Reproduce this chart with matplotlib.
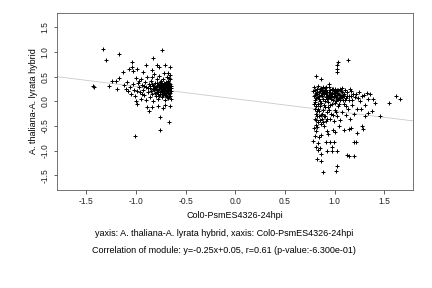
import numpy as np
import matplotlib
matplotlib.use("Agg")
import matplotlib.pyplot as plt

plt.rcParams['font.family'] = ['Liberation Sans', 'DejaVu Sans']

# left cluster (x, y)
left_pts = [
    (-1.33, 1.07), (-1.30, 0.84), (-1.17, 0.96), (-0.74, 1.04), (-0.83, 0.87), (-1.04, 0.79),
    (-1.43, 0.31), (-1.42, 0.28), (-1.27, 0.31), (-1.24, 0.41), (-1.20, 0.41), (-1.19, 0.24),
    (-1.17, 0.47), (-1.13, 0.60), (-1.09, 0.40), (-1.08, 0.20), (-1.07, 0.65), (-1.04, 0.70),
    (-1.03, 0.61), (-1.00, 0.47), (-0.99, 0.65), (-0.90, 0.74), (-0.93, 0.60), (-0.84, 0.64),
    (-0.79, 0.74), (-0.77, 0.70), (-0.71, 0.74), (-0.66, 0.70), (-0.68, 0.58), (-0.66, 0.53),
    (-0.72, 0.57), (-0.84, 0.49),
    (-1.00, 0.00), (-0.99, -0.05), (-0.89, -0.11), (-0.87, -0.20), (-0.84, -0.11), (-0.78, -0.09),
    (-0.73, -0.14), (-0.71, -0.08), (-0.66, -0.09), (-0.76, -0.32), (-0.67, -0.43), (-0.76, -0.58),
    (-1.01, -0.70),
    (-1.12, 0.33), (-1.10, 0.25), (-1.06, 0.28), (-1.05, 0.15), (-1.03, 0.35), (-1.02, 0.22),
    (-1.01, 0.10), (-0.98, 0.38), (-0.97, 0.28), (-0.96, 0.18), (-0.95, 0.45), (-0.95, 0.05),
    (-0.94, 0.33), (-0.93, 0.22), (-0.92, 0.12), (-0.91, 0.40), (-0.90, 0.28), (-0.90, 0.02),
    (-0.89, 0.50), (-0.88, 0.18), (-0.87, 0.35), (-0.86, 0.08), (-0.86, 0.26), (-0.85, 0.42),
    (-0.84, 0.15), (-0.83, 0.30), (-0.83, 0.00), (-0.82, 0.55), (-0.82, 0.22), (-0.81, 0.38),
    (-0.80, 0.10), (-0.80, 0.28), (-0.79, 0.45), (-0.79, 0.18), (-0.78, 0.33), (-0.78, 0.04),
    (-0.77, 0.24), (-0.77, 0.52), (-0.76, 0.14), (-0.76, 0.40), (-0.75, 0.30), (-0.75, 0.20),
    (-0.74, 0.08), (-0.74, 0.36), (-0.73, 0.25), (-0.73, 0.46), (-0.72, 0.15), (-0.72, 0.32),
    (-0.71, 0.22), (-0.71, 0.02), (-0.70, 0.40), (-0.70, 0.28), (-0.70, 0.12), (-0.69, 0.35),
    (-0.69, 0.18), (-0.69, 0.50), (-0.68, 0.25), (-0.68, 0.06), (-0.68, 0.42), (-0.67, 0.30),
    (-0.67, 0.15), (-0.67, 0.22), (-0.66, 0.36), (-0.66, 0.10), (-0.66, 0.26), (-0.66, 0.45),
    (-0.65, 0.20), (-0.65, 0.32), (-0.65, 0.04),
    (-0.88, 0.26), (-0.85, 0.20), (-0.82, 0.32), (-0.80, 0.24), (-0.78, 0.15), (-0.76, 0.28),
    (-0.74, 0.20), (-0.73, 0.12), (-0.72, 0.26), (-0.71, 0.36), (-0.70, 0.20), (-0.69, 0.28),
    (-0.68, 0.16), (-0.67, 0.38), (-0.92, 0.30), (-0.94, 0.15), (-0.97, 0.42), (-0.99, 0.20),
    (-0.84, 0.36), (-0.81, 0.16), (-0.79, 0.38), (-0.77, 0.10), (-0.75, 0.42), (-0.73, 0.32),
    (-0.71, 0.12), (-0.69, 0.08), (-0.67, 0.48), (-0.66, 0.16),
    (-0.86, 0.31), (-0.83, 0.24), (-0.81, 0.27), (-0.79, 0.30), (-0.78, 0.22), (-0.77, 0.34),
    (-0.76, 0.19), (-0.75, 0.25), (-0.74, 0.29), (-0.73, 0.18), (-0.72, 0.21), (-0.71, 0.27),
    (-0.70, 0.33), (-0.69, 0.23), (-0.68, 0.30), (-0.67, 0.26), (-0.66, 0.21), (-0.65, 0.27),
    (-0.75, 0.35), (-0.72, 0.38), (-0.70, 0.16), (-0.68, 0.20), (-0.67, 0.11), (-0.74, 0.14),
]

# right cluster (x, y)
right_pts = [
    (1.14, 0.84), (1.04, 0.80), (1.03, 0.74), (1.02, 0.65), (1.03, 0.60), (0.81, 0.51),
    (0.86, 0.45), (0.94, 0.35), (0.91, 0.28), (1.62, 0.11), (1.66, 0.05), (1.55, -0.03),
    (1.46, -0.30), (1.38, -0.20), (1.34, -0.23), (1.28, -0.51), (1.29, -0.57), (1.23, -0.64),
    (1.20, -0.82), (1.22, -0.83), (1.13, -1.09), (1.15, -1.12), (1.20, -1.12), (1.02, -1.32),
    (1.01, -1.41), (0.88, -1.44), (0.82, -1.18), (0.86, -1.21), (0.81, -0.92), (0.85, -0.95),
    (0.83, -0.99), (0.86, -1.07), (0.91, -0.82), (0.95, -0.82), (0.99, -0.82), (0.97, -0.92),
    (1.02, -1.00), (0.97, -1.00), (0.92, -1.00), (0.81, -0.61), (0.86, -0.68), (0.92, -0.60),
    (0.93, -0.66), (0.98, -0.59), (1.00, -0.62), (1.10, -0.58), (1.15, -0.57), (1.17, -0.55),
    (1.05, -0.50), (0.81, -0.48), (0.86, -0.46), (0.89, -0.50), (0.81, -0.38), (1.23, -0.16),
    (1.27, -0.16), (1.31, -0.30), (1.26, 0.00), (1.24, 0.06), (1.28, 0.10), (1.17, 0.20),
    (1.22, 0.15), (1.17, 0.10), (1.34, 0.04), (1.39, 0.04), (1.41, -0.04), (1.31, -0.08),
    (0.79, -0.05), (0.80, -0.15), (0.81, -0.25), (0.82, -0.30), (0.80, -0.35), (0.83, -0.42),
    (0.84, -0.20), (0.85, -0.10), (0.86, -0.28), (0.87, -0.36), (0.88, -0.18), (0.89, -0.08),
    (0.90, -0.30), (0.91, -0.40), (0.92, -0.22), (0.93, -0.12), (0.95, -0.35), (0.96, -0.25),
    (0.97, -0.05), (0.99, -0.40), (1.00, -0.18), (1.02, -0.30), (1.04, -0.10), (1.06, -0.38),
    (1.08, -0.22), (1.10, -0.05), (1.12, -0.28), (1.14, -0.15), (1.16, -0.35), (1.18, -0.08),
    (1.20, -0.25), (0.79, -0.55), (0.82, -0.52), (0.80, -0.70), (0.84, -0.72), (0.78, -0.80),
    (0.83, -0.85),
    (0.78, 0.20), (0.79, 0.10), (0.80, 0.02), (0.81, 0.16), (0.82, 0.24), (0.83, 0.08),
    (0.84, 0.18), (0.85, 0.00), (0.86, 0.12), (0.87, 0.22), (0.88, 0.05), (0.89, 0.15),
    (0.90, 0.26), (0.91, 0.08), (0.92, 0.18), (0.93, -0.02), (0.94, 0.12), (0.95, 0.22),
    (0.96, 0.04), (0.97, 0.16), (0.98, 0.25), (0.99, 0.08), (1.00, 0.18), (1.01, 0.00),
    (1.02, 0.12), (1.03, 0.22), (1.04, 0.05), (1.05, 0.15), (1.06, 0.25), (1.07, 0.08),
    (1.08, 0.18), (1.09, 0.02), (1.10, 0.14), (1.11, 0.22), (1.12, 0.06), (1.13, 0.18),
    (1.15, 0.10), (1.16, 0.24), (1.18, 0.02), (1.19, 0.14), (1.21, 0.08), (1.25, 0.18),
    (1.30, 0.12), (1.33, 0.17), (1.36, 0.14),
    (0.79, 0.28), (0.81, 0.06), (0.83, 0.30), (0.85, 0.20), (0.87, 0.10), (0.88, 0.28),
    (0.90, 0.00), (0.92, 0.10), (0.94, 0.28), (0.96, 0.14), (0.98, 0.02), (1.00, 0.24),
    (1.02, 0.20), (1.04, 0.15), (1.06, 0.02), (1.08, 0.26), (1.10, 0.10), (0.80, 0.22),
    (0.82, 0.14), (0.84, 0.04), (0.86, 0.26), (0.89, 0.20), (0.91, 0.14), (0.93, 0.06),
    (0.95, 0.17), (0.97, 0.24), (0.99, 0.14), (1.01, 0.08), (1.03, 0.16), (1.05, 0.06),
    (1.07, 0.20), (1.09, 0.12), (1.11, 0.02), (1.13, 0.10), (0.80, -0.02), (0.83, -0.05),
    (0.86, -0.03), (0.90, -0.12), (0.95, -0.08), (1.00, -0.04), (1.05, -0.06), (1.12, -0.10),
    (1.15, 0.02),
    (0.80, 0.12), (0.82, 0.19), (0.84, 0.11), (0.85, 0.25), (0.87, 0.16), (0.88, 0.21),
    (0.90, 0.19), (0.91, 0.23), (0.92, 0.04), (0.94, 0.19), (0.95, 0.09), (0.97, 0.10),
    (0.99, 0.21), (1.00, 0.10), (1.02, 0.05), (1.04, 0.22), (1.06, 0.13), (1.08, 0.09),
    (0.81, -0.10), (0.83, -0.15), (0.82, -0.20), (0.84, -0.30), (0.85, -0.38), (0.87, -0.25),
    (0.88, -0.42), (0.89, -0.30), (0.92, -0.35), (0.94, -0.18), (0.98, -0.28), (1.01, -0.22),
]

slope = -0.25
intercept = 0.05
ticks = [-1.5, -1.0, -0.5, 0.0, 0.5, 1.0, 1.5]

xlab = "Col0-PsmES4326-24hpi"
ylab = "A. thaliana-A. lyrata hybrid"
title1 = "yaxis: A. thaliana-A. lyrata hybrid, xaxis: Col0-PsmES4326-24hpi"
title2 = "Correlation of module: y=-0.25x+0.05, r=0.61 (p-value:-6.300e-01)"

pts = np.array(left_pts + right_pts)

fig = plt.figure(figsize=(6, 4), dpi=72)
ax = fig.add_axes([57.3 / 432, 1 - 190 / 288, (413.3 - 57.3) / 432, (190 - 12.7) / 288])

ax.axline((0, intercept), slope=slope, color='#c8c8c8', lw=0.8, zorder=1)
ax.scatter(pts[:, 0], pts[:, 1], marker='+', s=24, color='black', linewidths=1.0, zorder=2)

ax.set_xlim(-1.794, 1.794)
ax.set_ylim(-1.8, 1.797)
ax.set_xticks(ticks)
ax.set_yticks(ticks)
ax.set_xticklabels(["%.1f" % t for t in ticks])
ax.set_yticklabels(["%.1f" % t for t in ticks], rotation=90, va='center')
ax.tick_params(length=3.5, width=0.7, pad=4, labelsize=8.5, colors='#222222')
for s in ax.spines.values():
    s.set_color('#555555')
    s.set_linewidth(0.8)

fs = 9
fig.text(235.3 / 432, 1 - 216 / 288, xlab, ha='center', va='center', fontsize=fs)
fig.text(33 / 432, 1 - 101.3 / 288, ylab, ha='center', va='center', rotation=90, fontsize=fs)
fig.text(224 / 432, 1 - 234 / 288, title1, ha='center', va='center', fontsize=fs)
fig.text(224 / 432, 1 - 250.7 / 288, title2, ha='center', va='center', fontsize=fs)

fig.savefig("out.png", dpi=72)
